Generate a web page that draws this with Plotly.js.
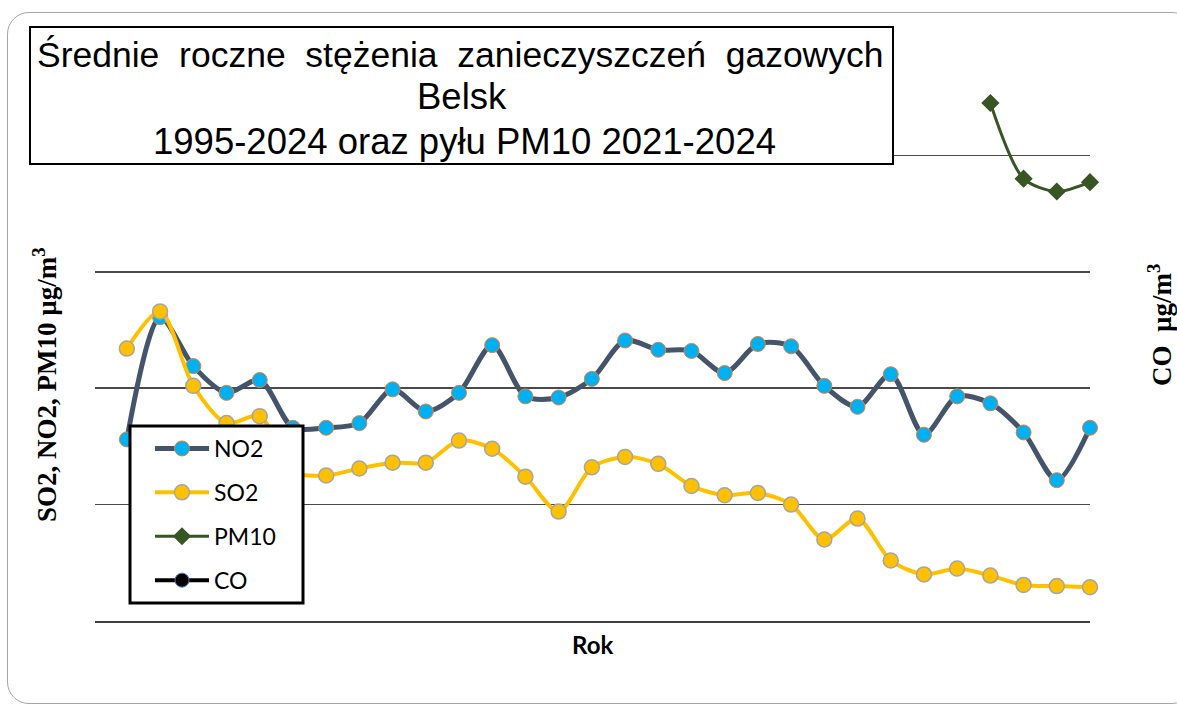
<!DOCTYPE html>
<html>
<head>
<meta charset="utf-8">
<script src="https://cdn.plot.ly/plotly-3.0.1.min.js"></script>
<style>
  body { margin: 0; background: #fff; }
  #chart { position: absolute; left: 0; top: 0; width: 1177px; height: 706px; }
  #frame {
    position: absolute; left: 7px; top: 12px; width: 1185px; height: 690px;
    border: 1.5px solid #a6a6a6; border-radius: 22px; pointer-events: none;
  }
</style>
</head>
<body>
<div id="chart"></div>
<div id="frame"></div>
<script>
const years = [1995, 1996, 1997, 1998, 1999, 2000, 2001, 2002, 2003, 2004,
  2005, 2006, 2007, 2008, 2009, 2010, 2011, 2012, 2013, 2014,
  2015, 2016, 2017, 2018, 2019, 2020, 2021, 2022, 2023, 2024]

const no2 = [15.6, 26.1, 21.9, 19.6, 20.7, 16.6, 16.6, 17.0, 19.9, 18.0,
  19.6, 23.7, 19.3, 19.2, 20.8, 24.1, 23.3, 23.2, 21.3, 23.8,
  23.6, 20.2, 18.4, 21.2, 16.0, 19.3, 18.7, 16.2, 12.1, 16.6]

const so2 = [23.4, 26.6, 20.2, 17.0, 17.6, 12.8, 12.5, 13.1, 13.6, 13.6,
  15.5, 14.8, 12.4, 9.4, 13.2, 14.1, 13.5, 11.6, 10.8, 11.0,
  10.0, 7.0, 8.8, 5.2, 4.0, 4.5, 3.9, 3.1, 3.0, 2.9]

const pm10Years = [2021, 2022, 2023, 2024]
const pm10 = [44.5, 38.0, 36.9, 37.7]

// CO has no values drawn, it only shows up in the legend
const coYears = [2021, 2022, 2023, 2024]
const co = [null, null, null, null]

const config = { displayModeBar: false, staticPlot: true }

// plot area in page pixels
const plotLeft = 95, plotRight = 1090, plotTop = 39, plotBottom = 621
const px = (x) => (x - plotLeft) / (plotRight - plotLeft)
const py = (y) => (plotBottom - y) / (plotBottom - plotTop)

const lineTrace = (name, x, y, line, marker, group) => {
  return {
    x: x,
    y: y,
    name: name,
    type: 'scatter',
    mode: 'lines+markers',
    line: Object.assign({ shape: 'spline', smoothing: 0.8 }, line),
    marker: marker,
    cliponaxis: false,
    legendgroup: group
  }
}

const data = [
  lineTrace('NO2', years, no2, { color: '#44546a', width: 5 },
    { color: '#00b0f0', size: 15, line: { color: '#ed7d31', width: 1 } }, 'a'),
  lineTrace('SO2', years, so2, { color: '#ffc000', width: 4 },
    { color: '#ffc000', size: 15, line: { color: '#a5a5a5', width: 1.5 } }, 'b'),
  lineTrace('PM10', pm10Years, pm10, { color: '#375623', width: 3 },
    { color: '#375623', size: 14, symbol: 'diamond' }, 'c'),
  lineTrace('CO', coYears, co, { color: '#000000', width: 4 },
    { color: '#000000', size: 14, line: { color: '#4472c4', width: 1 } }, 'd'),
]

const sans = 'Liberation Sans, Arial, sans-serif'
const serifBold = { family: 'Liberation Serif, Times New Roman, serif', size: 27, weight: 'bold', color: '#000' }

const note = (text, x, y, font, extra) => Object.assign({
  text: text, xref: 'paper', yref: 'paper', x: px(x), y: py(y),
  xanchor: 'center', yanchor: 'middle', showarrow: false, font: font
}, extra || {})

const layout = {
  width: 1177,
  height: 706,
  margin: { l: 95, r: 87, t: 39, b: 85 },
  paper_bgcolor: 'rgba(0,0,0,0)',
  plot_bgcolor: 'rgba(0,0,0,0)',
  showlegend: true,
  legend: {
    x: px(150), y: py(427), xanchor: 'left', yanchor: 'top',
    bgcolor: 'rgba(0,0,0,0)', borderwidth: 0,
    traceorder: 'grouped', tracegroupgap: 11, itemwidth: 54,
    font: { family: 'Lato, Carlito, sans-serif', size: 23, color: '#000' }
  },
  xaxis: {
    range: [1994.04, 2024],
    showgrid: false, zeroline: false,
    showline: true, linecolor: '#404040', linewidth: 1.5,
    showticklabels: false, ticks: ''
  },
  yaxis: {
    range: [0, 50],
    tickvals: [10, 20, 30, 40],
    showticklabels: false, ticks: '',
    gridcolor: '#4a4a4a', gridwidth: 1.5,
    zeroline: false, showline: false
  },
  shapes: [
    // title box
    {
      type: 'rect', xref: 'paper', yref: 'paper', layer: 'above',
      x0: px(30), x1: px(893), y0: py(164), y1: py(27),
      fillcolor: '#fff', line: { color: '#000', width: 2 }
    },
    // legend box
    {
      type: 'rect', xref: 'paper', yref: 'paper', layer: 'above',
      x0: px(130), x1: px(303), y0: py(603), y1: py(426),
      fillcolor: '#fff', line: { color: '#000', width: 3 }
    }
  ],
  annotations: [
    note('Średnie  roczne  stężenia  zanieczyszczeń  gazowych', 460, 55, { family: sans, size: 35.5, color: '#000' }),
    note('Belsk', 462, 97, { family: sans, size: 36.5, color: '#000' }),
    note('1995-2024 oraz pyłu PM10 2021-2024', 464, 141, { family: sans, size: 36.5, color: '#000' }),
    note('SO2, NO2, PM10 µg/m<sup>3</sup>', 45, 385, serifBold, { textangle: -90 }),
    note('CO  µg/m<sup>3</sup>', 1160, 325, serifBold, { textangle: -90 }),
    note('Rok', 592, 644, { family: 'Lato, Carlito, sans-serif', size: 24, weight: 'bold', color: '#000' })
  ]
}

Plotly.newPlot('chart', data, layout, config)
</script>
</body>
</html>
